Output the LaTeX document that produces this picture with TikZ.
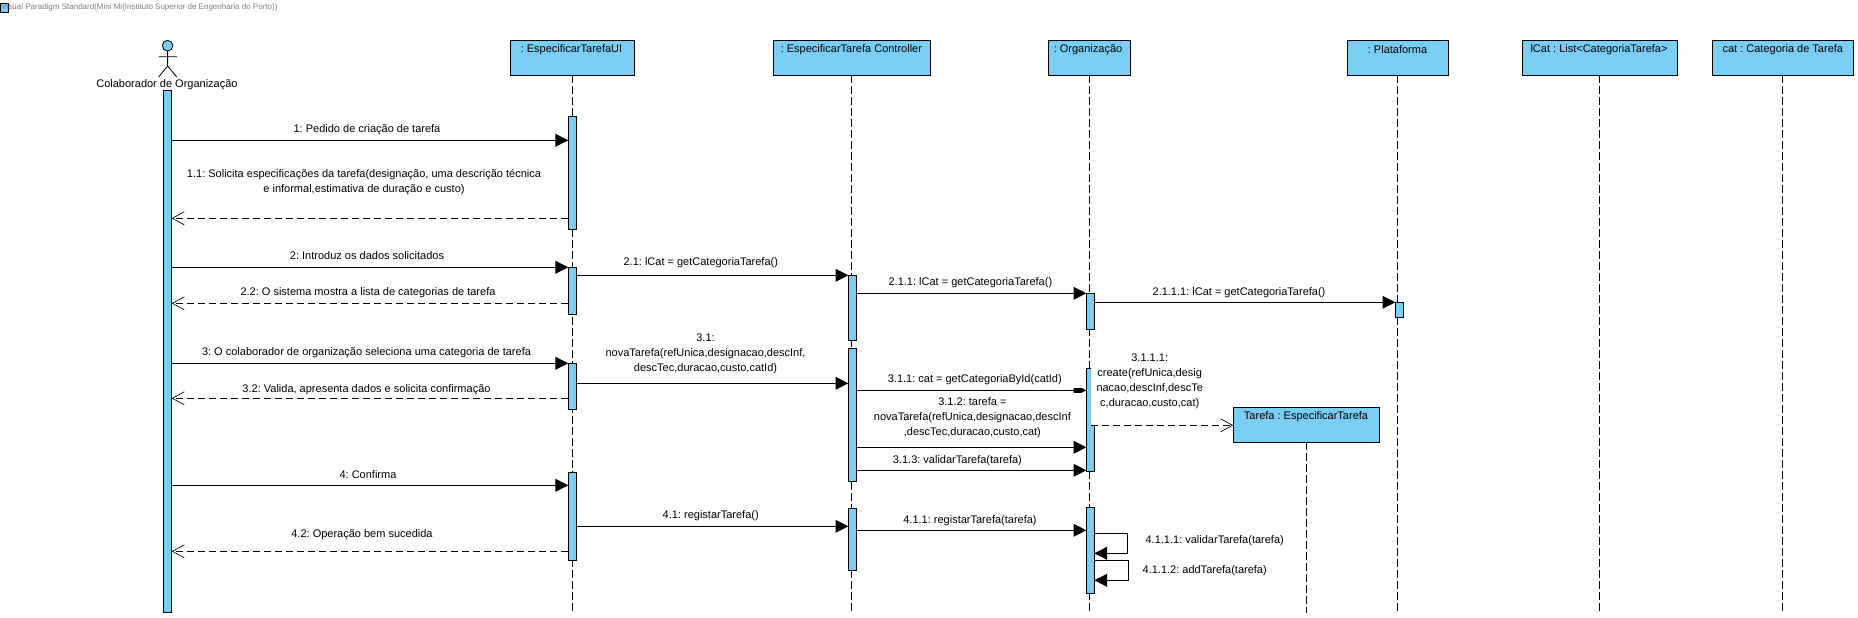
\documentclass[tikz,border=0pt]{standalone}
\usepackage{fontspec}
\setmainfont{Liberation Sans}
\usetikzlibrary{arrows.meta,calc}
\definecolor{vpblue}{RGB}{122,206,244}
\definecolor{vpgray}{RGB}{125,125,125}
\tikzset{
  every node/.style={inner sep=0,outer sep=0},
  lbl/.style={font=\frenchspacing\fontsize{8.25}{11.25}\selectfont,align=center,text=black,yshift=-1pt},
  objbox/.style={draw=black,fill=vpblue,line width=.75pt},
  actbar/.style={draw=black,fill=vpblue,line width=.75pt},
  lifeline/.style={draw=black,line width=.55pt,dash pattern=on 5.75pt off 2.5pt},
  syncmsg/.style={draw=black,line width=.75pt,-{Triangle[length=9.6pt,width=9.6pt]}},
  retmsg/.style={draw=black,line width=.6pt,dash pattern=on 5.5pt off 2.75pt,-{Straight Barb[length=9pt,width=9.8pt,line width=.5pt]}},
  plainmsg/.style={draw=black,line width=.75pt}
}
\newcommand{\vpbox}[6]{%
  \pgfmathsetmacro\vpw{(#4-#2)*0.75}%
  \pgfmathsetmacro\vph{(#5-#3)*0.75}%
  \pgfmathsetmacro\vpx{(#2+#4)/2}%
  \pgfmathsetmacro\vpy{(#3+#5)/2}%
  \node[#6,minimum width=\vpw pt,minimum height=\vph pt] (#1) at (\vpx,\vpy) {};%
}
\begin{document}
\begin{tikzpicture}[x=0.75pt,y=-0.75pt]
\useasboundingbox (0,0) rectangle (1858,617);
% watermark
\vpbox{icon}{0.5}{4}{8.7}{12.7}{actbar}
\node[anchor=west,font=\frenchspacing\fontsize{6}{8}\selectfont,text=vpgray] (wm) at (1.5,7.5) {Visual Paradigm Standard(Mini Mi(Instituto Superior de Engenharia do Porto))};
% object boxes
\vpbox{ui}{510.5}{40.3}{634.7}{75.3}{objbox}
\vpbox{ctrl}{773}{40.3}{930}{75.3}{objbox}
\vpbox{org}{1048.3}{40.3}{1130.6}{75.3}{objbox}
\vpbox{plat}{1347}{40.3}{1448}{75.3}{objbox}
\vpbox{lcat}{1522}{40.3}{1677}{75.3}{objbox}
\vpbox{cat}{1712}{40.3}{1853}{75.3}{objbox}
\vpbox{tar}{1233.3}{407.3}{1379.7}{442.3}{objbox}
\node[lbl] (tui) at (571.5,48.3) {: EspecificarTarefaUI};
\node[lbl] (tctrl) at (851.4,48.3) {: EspecificarTarefa Controller};
\node[lbl] (torg) at (1088,48.3) {: Organização};
\node[lbl] (tplat) at (1397.5,48.3) {: Plataforma};
\node[lbl] (tlcat) at (1599,48.3) {lCat : List<CategoriaTarefa>};
\node[lbl] (tcat) at (1782.8,48.3) {cat : Categoria de Tarefa};
\node[lbl] (ttar) at (1306,415.3) {Tarefa : EspecificarTarefa};
% lifelines
\foreach \n in {ui,ctrl,org,plat,lcat,cat,tar}{
  \coordinate (\n end) at (\n.south |- 0,613);
  \draw[lifeline] (\n.south) -- (\n end);
}
% actor
\node[draw=black,fill=vpblue,circle,minimum size=8pt,line width=.6pt] (head) at (167.6,45.7) {};
\coordinate (hip) at (167.6,66);
\coordinate (larm) at (158.6,56.7);
\coordinate (rarm) at (176.8,56.7);
\coordinate (lfoot) at (158.6,77);
\coordinate (rfoot) at (176.8,77);
\draw[line width=.6pt] (head.south) -- (hip) (larm) -- (rarm) (lfoot) -- (hip) -- (rfoot);
\node[lbl] (tactor) at (167,83.3) {Colaborador de Organização};
% activation bars
\vpbox{a0}{163.3}{90.3}{171.6}{612}{actbar}
\vpbox{u1}{568.2}{116.3}{576.5}{229.3}{actbar}
\vpbox{u2}{568.2}{267.3}{576.5}{314.3}{actbar}
\vpbox{u3}{568.2}{363.3}{576.5}{409.3}{actbar}
\vpbox{u4}{568.2}{472.3}{576.5}{560.3}{actbar}
\vpbox{c1}{848.3}{275.3}{856.6}{340.3}{actbar}
\vpbox{c2}{848.3}{348.3}{856.6}{481.3}{actbar}
\vpbox{c3}{848.3}{508.3}{856.6}{570.3}{actbar}
\vpbox{o1}{1086.3}{293.3}{1094.3}{329.3}{actbar}
\vpbox{o2}{1086.3}{368.3}{1094.3}{471.3}{actbar}
\vpbox{o3}{1086.3}{507.3}{1094.3}{593.3}{actbar}
\vpbox{p1}{1395.3}{302.3}{1403.5}{317.3}{actbar}
% white background of the create label
\fill[white] (1091,350) rectangle (1212,425.8);
\coordinate (createstart) at (1091,425.3);
% messages
\draw[syncmsg] (a0.east |- 0,140.3) -- (u1.west |- 0,140.3);
\draw[retmsg] (u1.west |- 0,218.3) -- (a0.east |- 0,218.3);
\draw[syncmsg] (a0.east |- 0,267.3) -- (u2.west |- 0,267.3);
\draw[retmsg] (u2.west |- 0,303.3) -- (a0.east |- 0,303.3);
\draw[syncmsg] (a0.east |- 0,363.3) -- (u3.west |- 0,363.3);
\draw[retmsg] (u3.west |- 0,398.3) -- (a0.east |- 0,398.3);
\draw[syncmsg] (a0.east |- 0,485.3) -- (u4.west |- 0,485.3);
\draw[retmsg] (u4.west |- 0,551.3) -- (a0.east |- 0,551.3);
\draw[syncmsg] (u2.east |- 0,275.3) -- (c1.west |- 0,275.3);
\draw[syncmsg] (c1.east |- 0,293.3) -- (o1.west |- 0,293.3);
\draw[syncmsg] (o1.east |- 0,302.3) -- (p1.west |- 0,302.3);
\draw[syncmsg] (u3.east |- 0,383.3) -- (c2.west |- 0,383.3);
% 3.1.1: its head is cut by the labels above and below it
\draw[plainmsg] (c2.east |- 0,390.3) -- (o2.west |- 0,390.3);
\begin{scope}
  \clip (1060,388) rectangle (1090,392.7);
  \draw[syncmsg] (c2.east |- 0,390.3) -- (o2.west |- 0,390.3);
\end{scope}
\draw[syncmsg] (c2.east |- 0,447.3) -- (o2.west |- 0,447.3);
\draw[syncmsg] (c2.east |- 0,470.3) -- (o2.west |- 0,470.3);
\draw[retmsg] (createstart) -- (tar.west |- createstart);
\draw[syncmsg] (u4.east |- 0,526.3) -- (c3.west |- 0,526.3);
\draw[syncmsg] (c3.east |- 0,530.3) -- (o3.west |- 0,530.3);
\draw[syncmsg] (o3.east |- 0,533.3) -| (1127.3,553.3) -- (o3.east |- 0,553.3);
\draw[syncmsg] (o3.east |- 0,560.3) -| (1128.3,580.3) -- (o3.east |- 0,580.3);
% labels
\node[lbl] (l1) at (367,128.3) {1: Pedido de criação de tarefa};
\node[lbl] (l11) at (364,180.8) {1.1: Solicita especificações da tarefa(designação, uma descrição técnica\\e informal,estimativa de duração e custo)};
\node[lbl] (l2) at (367,254.3) {2: Introduz os dados solicitados};
\node[lbl] (l22) at (368,291.3) {2.2: O sistema mostra a lista de categorias de tarefa};
\node[lbl] (l3) at (366.5,351.3) {3: O colaborador de organização seleciona uma categoria de tarefa};
\node[lbl] (l32) at (366.5,388.3) {3.2: Valida, apresenta dados e solicita confirmação};
\node[lbl] (l4) at (368,473.3) {4: Confirma};
\node[lbl] (l42) at (362,533) {4.2: Operação bem sucedida};
\node[lbl] (l21) at (700.8,261.3) {2.1: lCat = getCategoriaTarefa()};
\node[lbl] (l211) at (970.4,281.3) {2.1.1: lCat = getCategoriaTarefa()};
\node[lbl] (l2111) at (1239,291.3) {2.1.1.1: lCat = getCategoriaTarefa()};
\node[lbl] (l31) at (705.5,352.3) {3.1:\\novaTarefa(refUnica,designacao,descInf,\\descTec,duracao,custo,catId)};
\node[lbl] (l311) at (974.8,378.3) {3.1.1: cat = getCategoriaById(catId)};
\node[lbl] (l312) at (972.4,416) {3.1.2: tarefa =\\novaTarefa(refUnica,designacao,descInf\\,descTec,duracao,custo,cat)};
\node[lbl] (l313) at (957.4,459.3) {3.1.3: validarTarefa(tarefa)};
\node[lbl] (l3111) at (1149.7,379.8) {3.1.1.1:\\create(refUnica,desig\\nacao,descInf,descTe\\c,duracao,custo,cat)};
\node[lbl] (l41) at (710.7,514.3) {4.1: registarTarefa()};
\node[lbl] (l411) at (970,519.3) {4.1.1: registarTarefa(tarefa)};
\node[lbl] (l4111) at (1214.7,539.3) {4.1.1.1: validarTarefa(tarefa)};
\node[lbl] (l4112) at (1204.7,569.3) {4.1.1.2: addTarefa(tarefa)};
\end{tikzpicture}
\end{document}
